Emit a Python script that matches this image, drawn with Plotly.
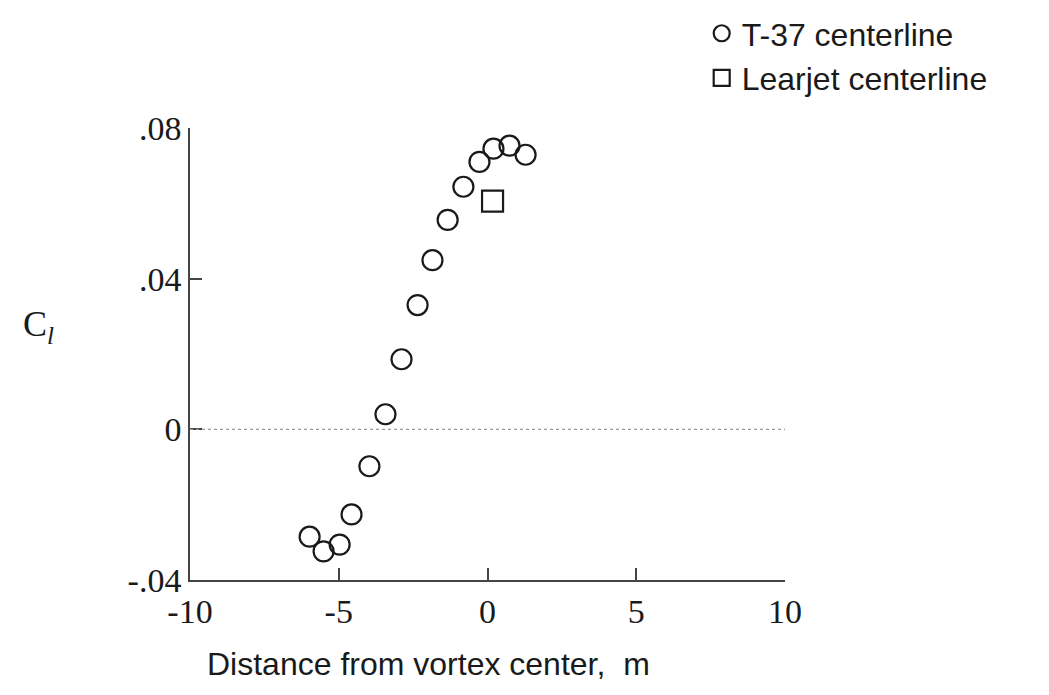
import plotly.graph_objects as go

# Data
t37_x = [-5.98, -5.51, -4.97, -4.57, -3.97, -3.43, -2.89, -2.35, -1.85, -1.34, -0.81, -0.27, 0.20, 0.74, 1.28]
t37_y = [-0.0285, -0.0324, -0.0306, -0.0226, -0.0098, 0.0040, 0.0186, 0.0330, 0.0449, 0.0556, 0.0644, 0.0710, 0.0745, 0.0753, 0.0729]
lear_x = [0.17]
lear_y = [0.0606]

x_ticks = [-10, -5, 0, 5, 10]
x_ticklabels = ["-10", "-5", "0", "5", "10"]
y_ticks = [-0.04, 0, 0.04, 0.08]
y_ticklabels = ["-.04", "0", ".04", ".08"]

sans = "Liberation Sans, Arial, sans-serif"
serif = "Liberation Serif, DejaVu Serif, serif"
ink = "#1a1a1a"

fig = go.Figure()
fig.add_trace(go.Scatter(
    x=t37_x, y=t37_y, mode="markers", name="T-37 centerline",
    marker=dict(symbol="circle-open", size=20, color=ink, line=dict(width=2.2, color=ink)),
))
fig.add_trace(go.Scatter(
    x=lear_x, y=lear_y, mode="markers", name="Learjet centerline",
    marker=dict(symbol="square-open", size=21, color=ink, line=dict(width=2.2, color=ink)),
))

fig.add_shape(type="line", xref="x", yref="y", x0=-10, x1=10, y0=0, y1=0,
              line=dict(color="#9a9a9a", width=1.2, dash="dot"))

fig.update_layout(
    width=1049, height=695,
    margin=dict(l=190, r=264, t=128, b=115, autoexpand=False),
    paper_bgcolor="white", plot_bgcolor="white",
    showlegend=True,
    legend=dict(x=0.86, y=1.27, xanchor="left", yanchor="top",
                font=dict(family=sans, size=32, color=ink),
                bgcolor="rgba(0,0,0,0)", itemsizing="trace", tracegroupgap=0,
                itemwidth=30),
    xaxis=dict(range=[-10, 10], tickvals=x_ticks, ticktext=x_ticklabels,
               showgrid=False, zeroline=False, showline=True, linecolor="#444444", linewidth=1.5,
               ticks="inside", ticklen=12, tickwidth=1.5, tickcolor="#444444",
               tickfont=dict(family=serif, size=34, color=ink)),
    yaxis=dict(range=[-0.04, 0.08], tickvals=y_ticks, ticktext=y_ticklabels,
               showgrid=False, zeroline=False, showline=True, linecolor="#444444", linewidth=1.5,
               ticks="inside", ticklen=12, tickwidth=1.5, tickcolor="#444444",
               tickfont=dict(family=serif, size=34, color=ink)),
)

# x-axis title (offset left of plot centre, as in the reference)
fig.add_annotation(xref="paper", yref="paper", x=(428 - 190) / 595, y=-0.185,
                   xanchor="center", yanchor="middle",
                   text="Distance from vortex center,  m", showarrow=False,
                   font=dict(family=sans, size=32, color=ink))

# y-axis title
fig.add_annotation(xref="paper", yref="paper", x=-0.255, y=0.56, xanchor="center", yanchor="middle",
                   text="C<sub><i>l</i></sub>", showarrow=False,
                   font=dict(family=serif, size=36, color=ink))

fig.write_html("out.html")
